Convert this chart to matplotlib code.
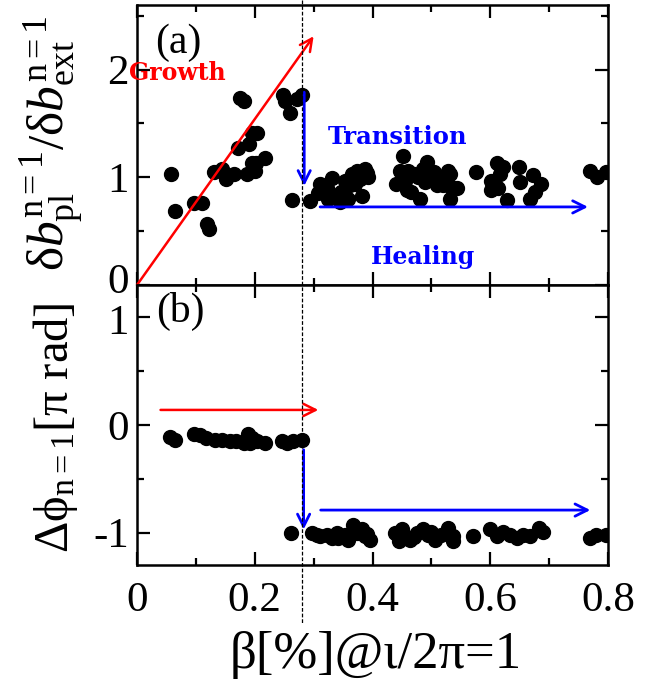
import matplotlib
matplotlib.use("Agg")
import matplotlib.pyplot as plt
from matplotlib.lines import Line2D
from matplotlib.transforms import blended_transform_factory, ScaledTranslation

plt.rcParams['font.family'] = ['Liberation Serif', 'DejaVu Serif']
plt.rcParams['mathtext.fontset'] = 'custom'
plt.rcParams['mathtext.rm'] = 'Liberation Serif'
plt.rcParams['mathtext.it'] = 'Liberation Serif:italic'
plt.rcParams['mathtext.bf'] = 'Liberation Serif:bold'

# ---------------- data ----------------
beta_a = [0.057, 0.065, 0.096, 0.110, 0.119, 0.123, 0.131, 0.144, 0.152, 0.165,
          0.172, 0.175, 0.182, 0.186, 0.190, 0.195, 0.203, 0.195, 0.202, 0.200,
          0.217, 0.248, 0.251, 0.260, 0.271, 0.280, 0.263,
          0.294, 0.308, 0.311, 0.322, 0.325, 0.331, 0.342, 0.353, 0.359, 0.365,
          0.370, 0.373, 0.382, 0.387, 0.393, 0.318, 0.335, 0.347, 0.362, 0.378,
          0.390, 0.345,
          0.440, 0.447, 0.452, 0.458, 0.461, 0.466, 0.478, 0.481, 0.486, 0.492,
          0.500, 0.509, 0.517, 0.529, 0.532, 0.534, 0.532, 0.543, 0.470, 0.490,
          0.505, 0.520, 0.455,
          0.575, 0.602, 0.602, 0.611, 0.614, 0.617, 0.622, 0.628, 0.648, 0.651,
          0.673, 0.676, 0.687, 0.667,
          0.769, 0.782, 0.797]
ratio_a = [1.03, 0.69, 0.76, 0.76, 0.57, 0.52, 1.05, 1.08, 0.98, 1.03,
           1.27, 1.74, 1.71, 1.03, 1.31, 1.41, 1.41, 1.13, 1.13, 1.06,
           1.18, 1.76, 1.71, 1.60, 1.73, 1.76, 0.79,
           0.78, 0.85, 0.94, 0.90, 0.80, 0.99, 0.83, 0.97, 0.80, 1.03,
           0.94, 1.06, 0.83, 1.08, 1.00, 0.92, 0.82, 0.86, 0.93, 0.98,
           1.04, 0.77,
           0.94, 1.06, 1.20, 0.88, 1.06, 0.86, 1.00, 0.80, 1.08, 1.14,
           1.00, 0.93, 0.99, 1.06, 1.03, 0.91, 0.80, 0.90, 1.03, 0.96,
           1.05, 0.93, 0.97,
           1.05, 0.97, 0.88, 1.13, 0.90, 1.03, 1.10, 0.79, 1.10, 0.96,
           1.02, 0.86, 0.94, 0.80,
           1.06, 1.00, 1.05]

beta_b = [0.056, 0.065, 0.096, 0.107, 0.118, 0.132, 0.144, 0.158, 0.169, 0.181,
          0.189, 0.192, 0.196, 0.203, 0.217, 0.246, 0.254, 0.265, 0.280,
          0.262, 0.297, 0.311, 0.322, 0.331, 0.342, 0.353, 0.359, 0.367, 0.373,
          0.382, 0.387, 0.396, 0.340, 0.305, 0.390,
          0.438, 0.450, 0.455, 0.464, 0.475, 0.486, 0.495, 0.506, 0.517, 0.529,
          0.537, 0.537, 0.445, 0.470, 0.500,
          0.571, 0.600, 0.611, 0.622, 0.634, 0.645, 0.656, 0.667, 0.682, 0.690,
          0.769, 0.780, 0.797]
phase_b = [-0.11, -0.14, -0.08, -0.09, -0.12, -0.14, -0.14, -0.15, -0.15, -0.17,
           -0.08, -0.17, -0.12, -0.15, -0.17, -0.15, -0.17, -0.15, -0.14,
           -1.00, -1.00, -1.03, -1.02, -1.05, -1.05, -1.02, -1.065, -0.93, -1.00,
           -0.97, -1.03, -1.065, -1.00, -1.02, -1.01,
           -1.00, -0.97, -1.03, -1.065, -1.00, -0.97, -1.02, -1.065, -1.02, -0.956,
           -1.03, -1.08, -1.08, -1.04, -0.99,
           -1.03, -0.97, -1.03, -0.99, -1.02, -1.05, -1.02, -1.03, -0.956, -0.99,
           -1.05, -1.02, -1.02]

x_ticks = [0, 0.2, 0.4, 0.6, 0.8]
x_ticklabels = ['0', '0.2', '0.4', '0.6', '0.8']
ya_ticks = [0, 1, 2]
yb_ticks = [-1, 0, 1]
yb_ticklabels = ['-1', '0', '1']
beta_transition = 0.28

# ---------------- figure ----------------
W, H = 650, 684
fig = plt.figure(figsize=(W / 100, H / 100), dpi=100)
L, R = 137, 608
ax_a = fig.add_axes([L / W, 1 - 285 / H, (R - L) / W, 280 / H])
ax_b = fig.add_axes([L / W, 1 - 565 / H, (R - L) / W, 280 / H])

tick_fs = 31
for ax in (ax_a, ax_b):
    ax.set_xlim(0, 0.8)
    ax.set_xticks(x_ticks)
    ax.set_xticks([0.1, 0.3, 0.5, 0.7], minor=True)
    ax.tick_params(which='both', direction='in', top=True, right=True,
                   width=1.6, labelsize=tick_fs)
    ax.tick_params(which='major', length=9.5)
    ax.tick_params(which='minor', length=5)
    ax.tick_params(axis='x', pad=12)
    ax.tick_params(axis='y', pad=6)
    for s in ax.spines.values():
        s.set_linewidth(1.8)

ax_a.set_ylim(0, 2.6)
ax_a.set_yticks(ya_ticks)
ax_a.set_yticks([0.5, 1.5, 2.5], minor=True)
ax_a.set_yticklabels([str(v) for v in ya_ticks])
ax_a.tick_params(axis='x', labelbottom=False)

ax_b.set_ylim(-1.3, 1.3)
ax_b.set_yticks(yb_ticks)
ax_b.set_yticks([-0.5, 0.5], minor=True)
ax_b.set_yticklabels(yb_ticklabels)
ax_b.set_xticklabels(x_ticklabels)

# nudge the touching "0" (panel a) and "1" (panel b) labels apart
lab0 = ax_a.get_yticklabels()[0]
lab0.set_transform(lab0.get_transform() + ScaledTranslation(0, 7 / 100, fig.dpi_scale_trans))
lab1 = ax_b.get_yticklabels()[-1]
lab1.set_transform(lab1.get_transform() + ScaledTranslation(0, -2 / 100, fig.dpi_scale_trans))

ms = 10
ax_a.plot(beta_a, ratio_a, 'o', color='black', ms=ms, zorder=3)
ax_b.plot(beta_b, phase_b, 'o', color='black', ms=ms, zorder=3)

def arrow(ax, start, end, color, lw=2.0):
    ax.annotate('', xy=end, xytext=start,
                arrowprops=dict(arrowstyle='->', color=color, lw=lw,
                                mutation_scale=22, shrinkA=0, shrinkB=0),
                zorder=4)

# panel a arrows
arrow(ax_a, (0.0, 0.0), (0.300, 2.31), 'red', 1.8)
arrow(ax_a, (0.284, 1.79), (0.284, 0.92), 'blue', 2.0)
arrow(ax_a, (0.311, 0.725), (0.766, 0.725), 'blue', 2.0)
# panel b arrows
arrow(ax_b, (0.040, 0.14), (0.308, 0.14), 'red', 1.8)
arrow(ax_b, (0.283, -0.23), (0.283, -0.97), 'blue', 2.0)
arrow(ax_b, (0.312, -0.79), (0.770, -0.79), 'blue', 2.0)

# dashed transition line spanning the figure
tr = blended_transform_factory(ax_b.transData, fig.transFigure)
fig.add_artist(Line2D([beta_transition, beta_transition], [1.0, 1 - 623 / H],
                      transform=tr, color='black', lw=0.9,
                      linestyle=(0, (3, 1.5)), zorder=5))

# panel texts
ax_a.text(0.07, 2.25, '(a)', fontsize=30, ha='center', va='center')
ax_b.text(0.073, 1.05, '(b)', fontsize=30, ha='center', va='center')
bold = dict(family='DejaVu Serif', fontweight='bold')
ax_a.text(0.068, 1.97, 'Growth', color='red', ha='center', va='center',
          fontsize=17, **bold)
ax_a.text(0.442, 1.37, 'Transition', color='blue', ha='center', va='center',
          fontsize=17.5, **bold)
ax_a.text(0.486, 0.26, 'Healing', color='blue', ha='center', va='center',
          fontsize=17, **bold)

# axis labels
fig.text(52 / W, 1 - 143 / H,
         r'$\mathrm{\delta}\mathit{b}_{\mathrm{pl}}^{\mathrm{n=1}}/\mathrm{\delta}\mathit{b}_{\mathrm{ext}}^{\mathrm{n=1}}$',
         rotation=90, fontsize=37, ha='center', va='center')
fig.text(55 / W, 1 - 428 / H,
         r'$\mathrm{\Delta\phi}_{\mathrm{n=1}}\mathrm{[\pi\ rad]}$',
         rotation=90, fontsize=35, ha='center', va='center')
fig.text(376 / W, 1 - 655 / H, 'β[%]@ι/2π=1', fontsize=38,
         ha='center', va='center')

fig.savefig('out.png', dpi=100)
